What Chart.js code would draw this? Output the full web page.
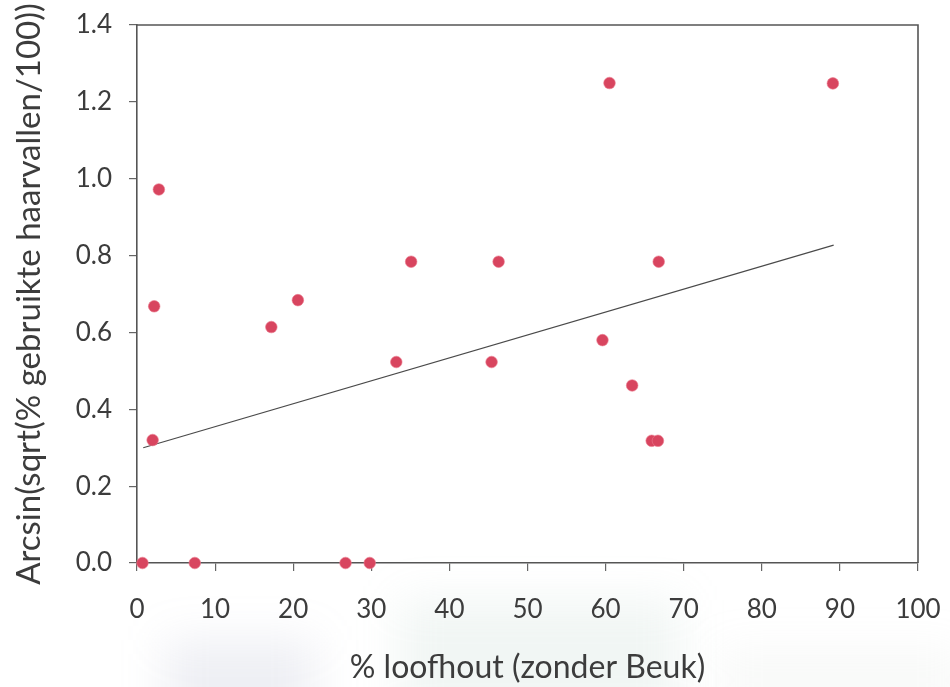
<!DOCTYPE html>
<html>
<head>
<meta charset="utf-8">
<script src="https://cdn.jsdelivr.net/npm/chart.js@4/dist/chart.umd.min.js"></script>
<style>
  html, body { margin: 0; padding: 0; background: #ffffff; }
  #wrap { width: 950px; height: 687px; position: relative; }
</style>
</head>
<body>
<div id="wrap"><canvas id="c" width="950" height="687"></canvas></div>
<script>
// % loofhout (zonder Beuk) per plot
const loofhout = [0.7, 7.4, 26.7, 29.8, 2.0, 2.2, 2.8, 17.2, 20.6, 33.2, 35.1, 45.4, 46.3, 59.6, 60.5, 63.4, 65.9, 66.7, 66.8, 89.1];
// Arcsin(sqrt(% gebruikte haarvallen/100)) per plot
const haarvallen = [0, 0, 0, 0, 0.32, 0.668, 0.972, 0.614, 0.684, 0.523, 0.784, 0.523, 0.784, 0.58, 1.249, 0.462, 0.318, 0.318, 0.784, 1.248];
// fitted trend line end points
const trendX = [0.8, 89.2];
const trendY = [0.30, 0.827];
// axis ticks
const xTicks = [0, 10, 20, 30, 40, 50, 60, 70, 80, 90, 100];
const yTicks = [0.0, 0.2, 0.4, 0.6, 0.8, 1.0, 1.2, 1.4];

const FONT = "Lato, 'Open Sans', sans-serif";
const TEXT = '#3c3c3c';

const points = loofhout.map((x, i) => ({ x, y: haarvallen[i] }));
const trend = trendX.map((x, i) => ({ x, y: trendY[i] }));

// faint photo behind the lower part of the page
const backdrop = {
  id: 'backdrop',
  beforeDraw(chart) {
    const ctx = chart.ctx;
    ctx.save();
    ctx.fillStyle = '#ffffff';
    ctx.fillRect(0, 0, chart.width, chart.height);
    ctx.filter = 'blur(22px)';
    ctx.fillStyle = 'rgba(150,155,185,0.16)';
    ctx.fillRect(165, 640, 150, 90);
    ctx.fillStyle = 'rgba(170,200,185,0.16)';
    ctx.fillRect(400, 600, 280, 120);
    ctx.fillStyle = 'rgba(195,205,200,0.12)';
    ctx.fillRect(720, 650, 240, 60);
    ctx.restore();
  },
  afterDatasetsDraw(chart) {
    // top and right frame lines
    const { ctx, chartArea: a } = chart;
    ctx.save();
    ctx.strokeStyle = '#555';
    ctx.lineWidth = 1.6;
    ctx.beginPath();
    ctx.moveTo(a.left, a.top);
    ctx.lineTo(a.right, a.top);
    ctx.lineTo(a.right, a.bottom);
    ctx.stroke();
    ctx.restore();
  }
};

new Chart(document.getElementById('c'), {
  type: 'scatter',
  data: {
    datasets: [
      {
        data: trend,
        showLine: true,
        borderColor: '#4a4a4a',
        borderWidth: 1.2,
        pointRadius: 0,
        order: 2
      },
      {
        data: points,
        pointRadius: 5.8,
        pointBackgroundColor: '#d8455f',
        pointBorderColor: 'rgba(235,120,140,0.6)',
        pointBorderWidth: 1,
        clip: false,
        order: 1
      }
    ]
  },
  options: {
    responsive: false,
    animation: false,
    devicePixelRatio: 1,
    layout: { padding: { left: 0, top: 25, right: 32, bottom: 0 } },
    plugins: { legend: { display: false }, tooltip: { enabled: false } },
    scales: {
      x: {
        type: 'linear',
        min: 0, max: 100,
        afterBuildTicks(s) { s.ticks = xTicks.map(v => ({ value: v })); },
        afterFit(s) { s.height = 124; s.paddingLeft = 0; s.paddingRight = 0; },
        border: { display: true, color: '#555', width: 1.6 },
        grid: { drawOnChartArea: false, drawTicks: true, tickLength: 8, color: '#666', lineWidth: 1.2 },
        ticks: { color: TEXT, font: { family: FONT, size: 26, weight: 400 }, padding: 23, maxRotation: 0 },
        title: {
          display: true,
          text: '% loofhout (zonder Beuk)',
          color: TEXT,
          font: { family: FONT, size: 32, weight: 400 },
          padding: { top: 6, bottom: 0 }
        }
      },
      y: {
        type: 'linear',
        min: 0, max: 1.4,
        afterBuildTicks(s) { s.ticks = yTicks.map(v => ({ value: v })); },
        afterFit(s) { s.width = 137; s.paddingTop = 0; s.paddingBottom = 0; },
        border: { display: true, color: '#555', width: 1.6 },
        grid: { drawOnChartArea: false, drawTicks: true, tickLength: 8, color: '#666', lineWidth: 1.2 },
        ticks: {
          color: TEXT,
          font: { family: FONT, size: 26, weight: 400 },
          padding: 17,
          callback: v => v.toFixed(1)
        },
        title: {
          display: true,
          text: 'Arcsin(sqrt(% gebruikte haarvallen/100))',
          color: TEXT,
          font: { family: FONT, size: 33, weight: 400 },
          padding: { top: 10, bottom: 0 }
        }
      }
    }
  },
  plugins: [backdrop]
});
</script>
</body>
</html>
